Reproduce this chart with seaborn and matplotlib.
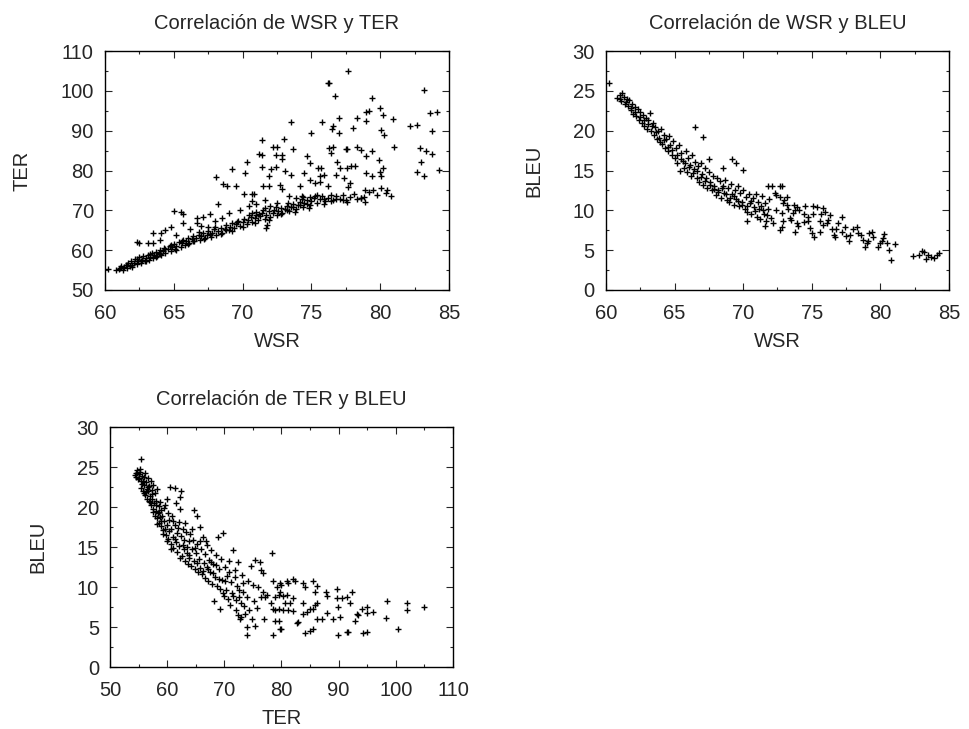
import matplotlib
matplotlib.use("Agg")
import matplotlib.pyplot as plt
from matplotlib.ticker import MultipleLocator
import seaborn as sns
import pandas as pd

# ---------------- Panel 1: WSR vs TER ----------------
wsr_ter_pts = [
    (60.2,55.3),(60.8,54.9),(61.0,55.2),(61.1,55.6),(61.3,55.0),(61.4,55.8),(61.5,56.3),(61.6,55.4),(61.7,56.8),(61.8,55.9),
    (61.9,57.4),(62.0,56.2),(62.1,56.9),(62.2,57.8),(62.3,56.5),(62.4,57.3),(62.5,58.2),(62.6,56.9),(62.7,57.6),(62.8,58.5),
    (62.9,57.2),(63.0,58.0),(63.1,58.9),(63.2,57.6),(63.3,58.4),(63.4,59.2),(63.5,58.0),(63.6,58.8),(63.7,59.6),(63.8,58.5),
    (63.9,59.3),(64.0,60.1),(64.1,58.9),(64.2,59.7),(64.3,60.6),(64.4,59.3),(64.6,60.2),(64.7,61.0),(64.8,59.9),(64.9,60.7),
    (65.0,61.6),(65.1,60.3),(65.2,61.1),(65.4,62.0),(65.5,60.8),(65.6,61.7),(65.7,62.6),(65.8,61.3),(65.9,62.2),(66.0,63.1),
    (66.1,61.8),(66.3,62.7),(66.4,63.5),(66.5,62.2),(66.6,63.0),(66.8,63.9),(66.9,62.6),(67.0,63.5),(67.1,64.3),(67.3,63.0),
    (67.4,63.9),(67.5,64.8),(67.7,63.4),(67.8,64.4),(67.9,65.2),(68.1,63.8),(68.2,64.8),(68.4,65.6),(68.5,64.3),(68.7,65.3),
    (68.8,66.2),(69.0,65.0),(69.1,65.9),(69.2,66.8),(69.4,65.5),(69.5,66.5),(69.7,67.4),(69.8,66.0),(70.0,67.0),(70.1,67.9),
    (70.3,66.5),(70.4,67.5),(70.6,68.4),(70.7,67.0),(70.9,68.0),(71.0,68.9),(71.1,67.5),(71.3,68.5),(71.4,69.4),(71.6,67.9),
    (71.7,68.9),(71.8,66.3),(71.9,69.8),(72.0,68.3),(72.2,69.3),(72.3,70.2),(72.5,68.8),(72.6,69.8),(72.8,70.7),(72.9,69.3),
    (73.1,70.3),(73.2,71.1),(73.4,69.8),(73.5,70.8),(73.7,71.6),(73.9,70.3),(74.0,71.3),(74.2,72.1),(74.4,70.8),(74.5,71.8),
    (74.7,72.6),(74.9,71.3),(75.0,72.3),(75.2,73.1),(75.4,71.8),(75.6,72.8),(75.8,73.5),(76.0,72.3),(76.2,73.2),(76.4,73.9),
    (76.6,72.6),(76.8,73.5),(77.1,72.9),(77.3,73.8),(77.5,72.5),(77.8,73.4),(78.1,74.0),(78.3,72.8),(78.6,73.0),(78.8,73.4),
    (78.9,72.2),(79.2,74.6),(79.5,75.2),(79.8,73.8),(80.1,75.5),(80.4,74.3),(80.8,73.7),
    (61.2,55.9),(61.6,56.4),(62.0,55.7),(62.3,57.9),(62.6,57.3),(63.0,57.4),(63.3,59.0),(63.7,58.2),(64.0,59.0),(64.4,60.4),
    (64.8,61.3),(65.2,60.0),(65.6,62.3),(66.0,61.6),(66.4,62.4),(66.8,64.5),(67.2,62.9),(67.6,64.1),(68.0,65.8),(68.4,64.0),
    (68.8,65.1),(69.2,64.8),(69.6,67.0),(70.0,65.9),(70.5,68.8),(70.9,66.8),(71.2,69.2),(71.5,70.1),(71.9,67.6),(72.4,70.9),
    (72.8,69.0),(73.3,71.9),(73.8,69.6),(74.3,72.8),(74.8,70.6),(75.3,73.6),(75.9,71.7),
    (62.3,62.1),(62.5,61.7),(63.1,61.9),(63.5,61.9),(63.5,64.4),(64.1,64.4),(64.4,65.1),(64.8,65.8),(65.0,69.8),(65.7,69.0),
    (65.7,66.9),(65.5,69.5),(66.7,68.0),(66.7,66.8),(67.1,68.4),(67.6,69.0),(67.5,65.9),(68.0,67.2),(68.1,78.3),(68.6,76.6),
    (68.9,76.0),(69.5,76.2),(69.2,80.3),(70.2,79.5),(70.3,82.1),(71.2,84.2),(70.1,74.0),(70.8,74.1),(70.7,72.4),(68.2,71.5),
    (66.2,65.2),(67.0,66.0),(68.5,68.0),(69.0,69.3),(69.8,70.0),(70.5,71.0),(71.0,71.5),(71.6,72.5),(64.0,62.5),(65.2,63.8),
    (77.7,105.0),(76.2,101.9),(76.3,101.9),(76.7,98.6),(83.2,100.3),(79.4,98.2),(79.0,94.8),(79.2,95.0),(80.0,95.8),(80.2,94.0),
    (80.9,93.0),(83.6,94.5),(84.1,94.8),(82.2,91.2),(82.7,91.4),(83.8,89.9),(78.3,93.2),(79.0,92.5),(77.0,93.2),(75.8,92.3),
    (76.5,90.4),(76.6,91.2),(77.0,89.4),(78.0,90.6),(75.0,89.5),(73.5,92.3),(80.1,90.2),(80.3,88.8),(81.0,86.0),(82.9,85.6),
    (83.3,84.8),(83.8,84.1),(83.0,82.2),(82.7,79.6),(83.2,78.5),(84.25,80.2),(71.4,87.7),(73.0,87.9),(72.2,86.0),(72.5,85.8),
    (71.4,83.9),(72.4,83.9),(72.9,83.9),(73.7,85.4),(72.9,82.8),(71.4,81.0),(72.1,80.3),(72.4,81.0),(73.1,80.0),(73.5,78.8),
    (71.9,78.5),(74.7,83.7),(74.9,81.8),(75.5,80.7),(75.7,80.7),(74.5,79.5),(74.9,77.6),(75.6,78.5),(75.9,78.9),(76.3,85.6),
    (76.6,85.9),(77.5,85.4),(77.6,85.4),(78.3,86.0),(78.6,85.2),(79.0,83.7),(79.4,84.8),(76.4,84.3),(76.9,82.1),(77.1,80.6),
    (77.6,80.6),(77.9,81.2),(78.2,81.2),(76.8,78.9),(77.4,78.1),(77.8,76.8),(77.7,75.9),(79.0,79.3),(79.4,78.5),(80.0,79.7),
    (80.1,78.6),(80.2,80.6),(79.9,82.7),(78.9,75.1),(80.5,75.1),(78.6,73.0),(76.2,76.2),(75.3,76.8),(75.6,77.0),(74.2,76.0),
    (74.3,73.7),(72.7,76.4),(72.9,75.4),(71.5,76.2),(71.9,76.2),(70.7,74.1),
    (73.4,73.6),(73.9,73.0),(74.4,73.4),(74.9,73.4),(75.4,73.9),(75.9,72.8),(76.4,72.4),(76.8,72.8),(77.3,72.6),(77.6,72.2),
    (73.2,70.1),(73.7,70.9),(74.2,71.4),(74.7,71.5),(72.5,71.8),(72.0,71.2),(71.6,70.5),(71.0,69.7),(70.7,69.3),(71.7,65.6),
]
wsr_a = [p[0] for p in wsr_ter_pts]
ter_a = [p[1] for p in wsr_ter_pts]

# ---------------- Panel 2: WSR vs BLEU ----------------
wsr_bleu_pts = [
    (60.2,26.0),(60.8,24.1),(61.0,24.5),(61.1,23.7),(61.2,24.7),(61.3,24.2),(61.4,23.4),(61.5,24.0),(61.6,23.1),(61.7,23.8),
    (61.8,22.6),(61.9,23.3),(62.0,22.1),(62.1,23.0),(62.2,21.8),(62.3,22.7),(62.4,21.3),(62.5,22.3),(62.6,21.0),(62.7,22.0),
    (62.8,20.6),(62.9,21.6),(63.0,20.2),(63.1,21.4),(63.2,22.2),(63.3,20.0),(63.4,21.0),(63.5,19.4),(63.6,20.5),(63.7,18.9),
    (63.8,20.0),(63.9,19.1),(64.0,20.2),(64.1,18.3),(64.2,19.5),(64.3,17.8),(64.4,18.9),(64.5,17.4),(64.6,19.3),(64.7,18.2),
    (64.8,17.0),(64.9,18.7),(65.0,16.6),(65.1,17.8),(65.2,15.9),(65.3,18.2),(65.4,14.9),(65.5,17.2),(65.6,16.2),(65.7,15.3),
    (65.8,17.5),(65.9,14.8),(66.0,16.6),(66.1,15.7),(66.2,14.3),(66.3,17.0),(66.4,15.2),(66.5,16.1),(66.6,14.0),(66.7,15.6),
    (66.8,13.6),(66.9,16.0),(67.0,14.5),(67.1,13.2),(67.2,15.3),(67.3,14.0),(67.4,12.8),(67.5,14.8),(67.6,13.5),(67.7,12.5),
    (67.8,14.3),(67.9,13.0),(68.0,11.9),(68.1,14.1),(68.2,12.6),(68.3,13.7),(68.4,11.5),(68.5,13.1),(68.6,12.2),(68.7,13.8),
    (68.8,11.3),(68.9,12.8),(69.0,11.0),(69.1,13.3),(69.2,12.0),(69.3,10.7),(69.4,12.5),(69.5,11.4),(69.6,13.0),(69.7,10.5),
    (69.8,12.2),(69.9,11.0),(70.0,12.6),(70.1,10.2),(70.2,11.7),(70.3,9.8),(70.4,12.0),(70.5,10.9),(70.6,9.6),(70.7,11.5),
    (70.8,10.4),(70.9,12.1),(71.0,9.2),(71.1,11.0),(71.2,8.9),(71.3,10.6),(71.4,11.8),(71.5,9.5),(71.6,10.9),(71.7,8.7),
    (71.8,10.2),(71.9,11.4),(72.0,9.0),
    (66.5,20.4),(67.1,19.2),(67.5,16.5),(68.5,15.3),(69.2,16.5),(69.5,15.9),(70.0,15.1),(70.3,8.6),(71.6,8.0),(71.8,13.0),
    (72.1,13.0),(72.8,13.1),(72.7,13.0),(72.4,11.9),(72.7,11.7),(73.2,11.7),(72.9,10.9),(73.2,10.7),(73.7,10.7),(73.9,10.45),
    (73.8,10.0),(73.3,10.2),(72.4,10.0),(72.8,9.7),(72.2,8.4),(72.9,8.6),(72.8,7.9),(72.7,7.5),(73.5,8.8),(73.9,8.4),
    (73.8,7.3),(74.4,8.5),(74.4,9.6),(74.75,9.2),(75.1,10.6),(75.4,10.45),(75.1,9.6),(74.75,8.6),(75.0,7.1),(75.2,6.7),
    (75.6,7.3),(75.8,10.25),(76.0,9.8),(75.7,9.6),(75.6,8.6),(76.1,8.4),(75.8,8.2),(76.2,8.8),(76.3,9.4),(76.45,7.7),
    (76.6,6.9),(76.7,6.6),(76.8,7.7),(76.9,8.45),(77.2,9.2),(77.4,7.95),(77.2,7.3),(77.5,6.8),(77.8,6.9),(77.7,6.1),
    (78.0,7.7),(78.3,7.95),(78.4,7.1),(78.6,6.9),(78.75,6.3),(79.0,5.9),(79.2,7.1),(79.4,7.3),(78.9,5.4),(79.1,6.1),
    (79.5,6.7),(79.85,5.4),(80.0,5.9),(80.3,7.0),(80.2,6.5),(80.1,6.1),(80.5,5.9),(80.6,5.0),(80.8,3.8),(81.1,5.8),
    (82.35,4.3),(82.8,4.4),(83.0,4.9),(83.2,4.8),(83.3,3.85),(83.5,4.4),(83.7,4.2),(83.9,4.0),(84.1,4.4),(84.3,4.7),
    (72.3,12.2),(73.0,11.3),(73.6,9.7),(74.1,10.1),(74.5,10.5),(74.0,8.0),(73.4,9.1),(74.9,7.8),
    (61.05,24.0),(61.45,23.6),(61.85,22.9),(62.15,22.4),(62.45,21.7),(62.75,21.3),(63.05,20.8),(63.35,20.6),(63.65,19.8),(63.95,18.6),
    (64.25,18.8),(64.55,18.0),(64.85,17.6),(65.15,16.9),(65.45,16.5),(65.75,16.0),(66.05,15.4),(66.35,14.7),(66.65,14.9),(66.95,14.2),
    (67.25,13.7),(67.55,13.2),(67.85,12.7),(68.15,12.3),(68.45,12.8),(68.75,12.0),(69.05,11.6),(69.35,11.8),(69.65,11.2),(69.95,10.7),
    (70.25,10.6),(70.55,11.2),(70.85,9.9),(71.15,10.2),(71.45,10.0),(71.75,9.4),
]
wsr_b = [p[0] for p in wsr_bleu_pts]
bleu_b = [p[1] for p in wsr_bleu_pts]

# ---------------- Panel 3: TER vs BLEU ----------------
ter_bleu_pts = [
    (54.3,24.0),(54.5,24.3),(54.6,23.8),(54.8,24.6),(55.0,24.1),(55.1,23.6),(55.2,24.4),(55.4,26.0),(55.4,23.2),(55.5,22.4),
    (55.6,23.9),(55.7,22.0),(55.8,23.3),(55.9,21.7),(56.0,22.8),(56.1,24.2),(56.2,21.5),(56.3,23.1),(56.4,22.3),(56.5,21.0),
    (56.6,23.6),(56.7,22.0),(56.8,20.7),(56.9,22.6),(57.0,21.4),(57.1,23.3),(57.2,20.2),(57.3,22.1),(57.4,21.0),(57.5,19.8),
    (57.6,22.7),(57.7,20.5),(57.8,18.9),(57.9,21.7),(58.0,19.5),(58.1,20.8),(58.2,18.6),(58.3,22.3),(58.4,19.2),(58.5,20.1),
    (58.6,18.0),(58.7,18.7),(58.8,20.6),(58.9,19.6),(59.0,17.6),(59.1,18.9),(59.3,17.1),(59.4,19.9),(59.5,18.2),(59.7,20.3),
    (59.8,16.5),(59.9,21.0),(60.0,17.7),(60.1,19.2),(60.2,16.0),(60.4,18.4),(60.5,22.5),(60.6,15.4),(60.7,17.3),(60.8,18.9),
    (61.0,16.2),(61.1,14.9),(61.3,17.8),(61.4,22.4),(61.5,15.6),(61.6,20.5),(61.7,16.8),(61.8,14.4),(62.0,18.1),(62.1,15.1),
    (62.3,21.2),(62.3,19.7),(62.4,22.0),(62.5,16.4),(62.6,13.9),(62.8,17.2),(62.9,14.8),(63.0,15.9),(63.2,13.3),(63.3,16.9),
    (63.5,14.3),(63.6,12.9),(63.8,15.7),(63.9,13.6),(64.0,16.6),(64.2,12.6),(64.3,14.7),(64.5,15.9),(64.7,19.6),(64.7,13.2),
    (64.9,12.2),(65.0,14.3),(65.2,18.9),(65.3,15.4),(65.4,11.9),(65.6,13.5),(65.7,17.5),(65.8,12.4),(66.0,14.8),(66.1,11.6),
    (66.3,16.2),(66.4,13.0),(66.6,11.1),(66.7,14.1),(66.9,12.5),(67.0,15.3),(67.2,10.8),(67.3,13.4),(67.5,11.9),(67.6,14.6),
    (67.8,10.4),(68.0,12.9),(68.2,8.2),(68.3,11.3),(68.5,14.0),(68.7,10.1),(68.9,16.3),(69.0,12.2),(69.2,7.2),(69.2,9.7),
    (69.4,13.5),(69.6,10.9),(69.8,16.8),(69.9,8.9),(70.1,12.5),(70.3,9.6),(70.5,11.4),(70.7,8.5),(70.9,13.2),(71.0,7.8),
    (71.2,10.6),(71.5,14.6),(71.6,8.9),(71.8,12.1),(72.0,7.1),(72.1,8.4),(72.3,10.1),(72.4,13.1),(72.4,6.5),(72.6,9.6),
    (72.7,5.96),(72.9,8.0),(73.0,6.2),(73.1,11.5),(73.3,9.4),(73.5,7.6),(73.7,6.6),(73.9,8.8),(73.9,4.0),(74.0,5.0),
    (74.2,10.7),(74.4,7.1),(74.6,12.6),(74.8,6.0),(75.0,10.25),(75.2,8.3),(75.4,13.4),(75.4,5.1),(75.7,7.4),(75.9,10.0),
    (76.2,13.1),(76.5,12.1),(76.5,8.8),(76.8,9.4),(76.8,11.8),(77.0,6.0),(77.1,8.8),(77.4,9.0),(78.2,8.0),(78.4,14.2),
    (78.5,7.2),(78.57,10.8),(78.6,4.0),(78.9,8.8),(78.9,7.1),(78.9,5.8),(79.16,10.0),(79.5,9.0),(79.5,7.25),(79.5,5.8),
    (79.7,10.5),(79.74,9.4),(79.7,4.8),(80.0,10.25),(80.0,4.8),(80.3,8.9),(80.3,7.1),(80.6,8.0),(80.9,10.8),(80.9,9.0),
    (81.2,10.46),(81.2,7.1),(81.5,8.0),(82.06,10.96),(82.06,8.6),(82.06,7.0),(82.36,10.8),(82.66,5.46),(82.94,5.66),(83.82,10.46),
    (83.82,8.04),(83.82,6.6),(84.1,10.04),(84.1,4.2),(84.4,6.9),(84.98,7.3),(84.98,4.5),(85.56,10.8),(85.56,7.2),(85.56,4.8),
    (85.86,9.4),(85.86,7.75),(86.15,10.16),(86.15,7.96),(86.15,5.96),(87.0,5.96),(87.7,9.4),(87.9,8.9),(87.9,6.7),(89.05,6.0),
    (89.7,9.75),(89.7,8.6),(89.9,7.5),(89.9,4.0),(90.2,6.3),(90.6,8.6),(91.5,8.8),(91.5,4.4),(91.7,4.4),(92.0,8.04),
    (92.3,9.4),(92.85,5.8),(93.15,6.6),(93.4,6.5),(94.0,7.2),(94.3,4.3),(94.9,7.5),(94.9,6.7),(94.9,4.4),(96.0,6.9),
    (98.3,6.1),(98.4,8.3),(100.3,4.8),(101.9,8.04),(101.9,7.1),(105.0,7.5),
    (54.9,23.5),(55.3,24.8),(55.6,22.9),(56.0,23.8),(56.3,21.9),(56.6,22.5),(57.0,20.6),(57.3,21.6),(57.6,19.4),(58.0,20.3),
    (58.3,17.9),(58.6,19.4),(59.0,18.3),(59.2,16.6),(59.6,17.3),(60.0,15.8),(60.3,17.0),(60.7,14.8),(61.0,18.3),(61.4,16.0),
    (61.9,17.4),(62.2,13.6),(62.7,15.3),(63.1,18.0),(63.4,15.0),(63.9,14.0),(64.4,17.2),(64.8,14.9),(65.3,13.0),(65.8,15.7),
    (66.2,12.0),(66.8,15.8),(67.1,12.2),(67.7,13.1),(68.1,11.8),(68.6,12.7),(69.1,11.0),(69.7,9.3),(70.2,10.8),(70.8,11.9),
    (71.3,9.3),(71.9,11.2),(72.5,8.7),(73.2,10.5),
]
ter_c = [p[0] for p in ter_bleu_pts]
bleu_c = [p[1] for p in ter_bleu_pts]

titles = ["Correlación de WSR y TER", "Correlación de WSR y BLEU", "Correlación de TER y BLEU"]
xlabels = ["WSR", "WSR", "TER"]
ylabels = ["TER", "BLEU", "BLEU"]

sns.set_style("ticks")
plt.rcParams["font.family"] = ["Liberation Sans", "DejaVu Sans"]
plt.rcParams["font.size"] = 14

fig = plt.figure(figsize=(9.7, 7.29), dpi=100)
ax1 = fig.add_axes([0.1082, 0.6022, 0.3546, 0.3278])
ax2 = fig.add_axes([0.6247, 0.6022, 0.3536, 0.3278])
ax3 = fig.add_axes([0.1134, 0.0850, 0.3536, 0.3292])

panels = [
    (ax1, wsr_a, ter_a, (60, 85), (50, 110), 5, 2.5, 10, 5),
    (ax2, wsr_b, bleu_b, (60, 85), (0, 30), 5, 2.5, 5, 2.5),
    (ax3, ter_c, bleu_c, (50, 110), (0, 30), 10, 5, 5, 2.5),
]

for i, (ax, xs, ys, xl, yl, xmaj, xmin, ymaj, ymin) in enumerate(panels):
    df = pd.DataFrame({"x": xs, "y": ys})
    sns.scatterplot(data=df, x="x", y="y", marker="+", color="black",
                    s=14, linewidth=1.0, ax=ax, legend=False)
    ax.set_xlim(*xl)
    ax.set_ylim(*yl)
    ax.xaxis.set_major_locator(MultipleLocator(xmaj))
    ax.xaxis.set_minor_locator(MultipleLocator(xmin))
    ax.yaxis.set_major_locator(MultipleLocator(ymaj))
    ax.yaxis.set_minor_locator(MultipleLocator(ymin))
    ax.tick_params(which="both", direction="in", top=True, right=True, width=0.8, labelsize=14.5)
    ax.tick_params(axis="y", which="both", pad=8)
    ax.tick_params(axis="x", which="both", pad=10)
    ax.tick_params(which="major", length=5)
    ax.tick_params(which="minor", length=2.5)
    for sp in ax.spines.values():
        sp.set_linewidth(1.0)
        sp.set_color("black")
    ax.set_title(titles[i], fontsize=14.5, pad=16)
    ax.set_xlabel(xlabels[i], fontsize=14.5, labelpad=6.5)
    ax.set_ylabel(ylabels[i], fontsize=14.5, labelpad=21)

fig.savefig("out.png", dpi=100)
